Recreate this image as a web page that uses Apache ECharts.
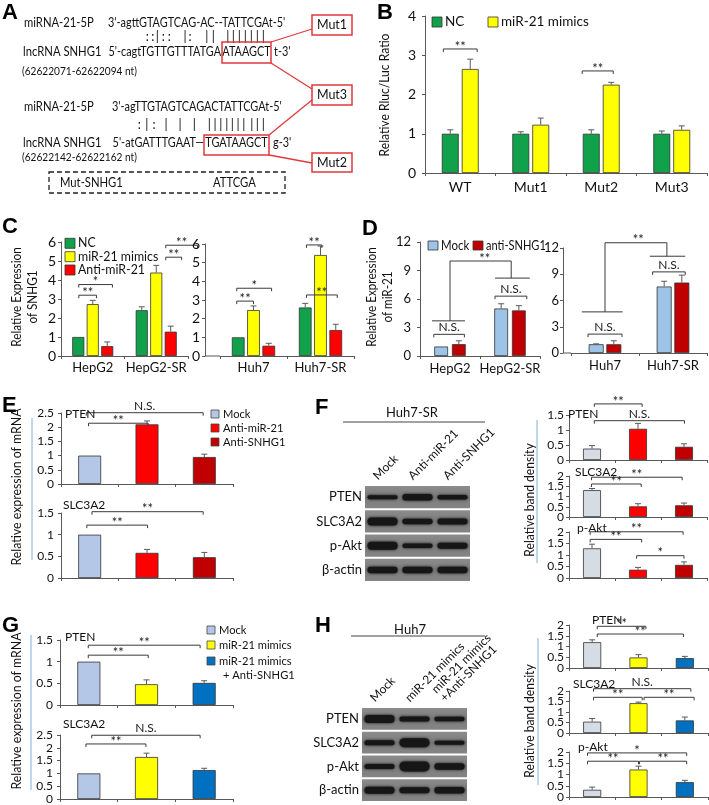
<!DOCTYPE html>
<html><head><meta charset="utf-8">
<script src="https://cdn.jsdelivr.net/npm/echarts@6/dist/echarts.min.js"></script>
<style>html,body{margin:0;padding:0;background:#fff}#c{width:709px;height:805px}</style>
</head><body><div id="c"></div>
<script>
// ================= DATA =================
// Panel B
const bCategories = ['WT','Mut1','Mut2','Mut3'];
const bNames = ['NC','miR-21 mimics'];
const bNC = [1.0,1.0,1.0,1.0];
const bNCErr = [0.1,0.05,0.1,0.07];
const bMimics = [2.65,1.23,2.25,1.1];
const bMimicsErr = [0.25,0.17,0.06,0.1];
const bTicks = [0,1,2,3,4];
const bSig = [[-0.24,3.16,0.24,'**'],[1.73,2.6,2.17,'**']];

// Panel C
const cCatsLeft = ['HepG2','HepG2-SR'];
const cCatsRight = ['Huh7','Huh7-SR'];
const cNames = ['NC','miR-21 mimics','Anti-miR-21'];
const cNCLeft = [1.0,2.41], cNCLeftErr = [0,0.18];
const cMimicsLeft = [2.73,4.39], cMimicsLeftErr = [0.2,0.38];
const cAntiLeft = [0.52,1.28], cAntiLeftErr = [0.22,0.29];
const cNCRight = [1.0,2.6], cNCRightErr = [0,0.22];
const cMimicsRight = [2.46,5.41], cMimicsRightErr = [0.22,0.48];
const cAntiRight = [0.55,1.39], cAntiRightErr = [0.13,0.31];
const cTicks = [0,1,2,3,4,5,6];
const cSigLeft = [[-0.22,3.2,0.06,'**'],[-0.22,3.76,0.31,'*'],[1.15,5.2,1.40,'**'],[1.15,5.83,1.65,'**']];
const cSigRight = [[-0.25,2.94,0.0,'**'],[-0.25,3.63,0.27,'*'],[0.79,5.95,1.02,'**'],[0.79,3.27,1.25,'**']];

// Panel D
const dCatsLeft = ['HepG2','HepG2-SR'];
const dCatsRight = ['Huh7','Huh7-SR'];
const dNames = ['Mock','anti-SNHG1'];
const dMockLeft = [1.0,5.0], dMockLeftErr = [0,0.5];
const dAntiLeft = [1.25,4.8], dAntiLeftErr = [0.35,0.5];
const dMockRight = [1.0,7.6], dMockRightErr = [0.05,0.6];
const dAntiRight = [1.0,8.05], dAntiRightErr = [0.4,0.85];
const dTicks = [0,3,6,9,12];
const dSigLeft = [[-0.27,2.28,0.24,'N.S.'],[0.75,6.3,1.28,'N.S.']];
const dLinksLeft = [[[-0.3,3.7],[0.25,3.7]],[[0.0,3.7],[0.0,10.0],[1.02,10.0],[1.02,8.2]],[[0.75,8.2],[1.33,8.2]]];
const dStarLeft = [[0.58,10.0,'**']];
const dSigRight = [[-0.25,2.16,0.25,'N.S.'],[0.7,9.27,1.18,'N.S.']];
const dLinksRight = [[[-0.34,4.7],[0.26,4.7]],[[0.0,4.7],[0.0,12.6],[0.91,12.6],[0.91,11.06]],[[0.66,11.06],[1.18,11.06]]];
const dStarRight = [[0.49,12.6,'**']];

// Panel E
const eGroups = ['Mock','Anti-miR-21','Anti-SNHG1'];
const ePTEN = [1.0,2.1,0.95], ePTENErr = [0,0.12,0.1];
const ePTENTicks = [0,0.5,1,1.5,2,2.5];
const eSLC = [1.0,0.58,0.48], eSLCErr = [0,0.08,0.11];
const eSLCTicks = [0,0.5,1,1.5];
const eSigPTEN = [[-0.02,2.14,1.02,'**'],[-0.06,2.51,1.98,'N.S.']];
const eSigSLC = [[-0.05,1.22,1.01,'**'],[0.04,1.53,1.98,'**']];

// Panel F
const fLanes = ['Mock','Anti-miR-21','Anti-SNHG1'];
const fProteins = ['PTEN','SLC3A2','p-Akt','β-actin'];
const fBands = [[4,6.5,4.5],[8,5.5,6],[8,4.5,6],[6.5,6.5,6.5]];
const fPTEN = [0.38,1.04,0.44], fPTENErr = [0.1,0.18,0.1], fPTENTicks = [0,0.5,1,1.5];
const fSLC = [1.31,0.52,0.57], fSLCErr = [0.08,0.13,0.11], fSLCTicks = [0,0.5,1,1.5,2];
const fAkt = [1.29,0.36,0.57], fAktErr = [0.18,0.1,0.13], fAktTicks = [0,0.5,1,1.5,2];
const fSigPTEN = [[0.05,1.87,1.09,'**'],[0.05,1.31,2.01,'N.S.']];
const fSigSLC = [[-0.01,1.94,1.96,'**'],[-0.01,1.61,1.07,'**']];
const fSigAkt = [[-0.04,2.01,1.98,'**'],[-0.04,1.68,1.08,'**'],[0.97,0.97,2.0,'*']];

// Panel G
const gGroups = ['Mock','miR-21 mimics','miR-21 mimics + Anti-SNHG1'];
const gPTEN = [1.0,0.48,0.51], gPTENErr = [0,0.1,0.05], gPTENTicks = [0,0.5,1,1.5];
const gSLC = [1.0,1.64,1.13], gSLCErr = [0,0.15,0.07], gSLCTicks = [0,0.5,1,1.5,2,2.5];
const gSigPTEN = [[-0.01,1.15,1.03,'**'],[-0.01,1.38,1.93,'**']];
const gSigSLC = [[0.05,2.49,1.93,'N.S.'],[-0.05,2.15,0.99,'**']];

// Panel H
const hLanes = ['Mock','miR-21 mimics','miR-21 mimics\n+Anti-SNHG1'];
const hProteins = ['PTEN','SLC3A2','p-Akt','β-actin'];
const hBands = [[8,5,4.5],[5,9,4],[5,10,6.5],[7,6,6.5]];
const hPTEN = [1.2,0.49,0.46], hPTENErr = [0.11,0.13,0.08], hPTENTicks = [0,0.5,1,1.5,2];
const hSLC = [0.54,1.42,0.6], hSLCErr = [0.15,0.05,0.16], hSLCTicks = [0,0.5,1,1.5,2];
const hAkt = [0.32,1.22,0.66], hAktErr = [0.12,0.15,0.08], hAktTicks = [0,0.5,1,1.5,2];
const hSigPTEN = [[0.11,1.94,1.16,'**'],[0.11,1.58,1.97,'**']];
const hSigSLC = [[0.03,2.11,2.13,'N.S.'],[0.03,1.7,1.08,'**'],[1.12,1.7,2.2,'**']];
const hSigAkt = [[-0.1,1.96,2.04,'*'],[-0.1,1.59,1.0,'**'],[1.02,1.59,2.04,'**']];

// ================= STYLE =================
const FONT = 'Lato, "Liberation Sans", sans-serif';
const AX = '#595959', ERR = '#5a5a5a', BR = '#3a3a3a', BORDER = '#333';
const GREEN = '#12a14b', YELLOW = '#ffff00', RED = '#ff0000', DRED = '#c00000';
const LBLUE = '#9dc3e6', MBLUE = '#b4c7e7', GRAYB = '#d6dce4', BLUE = '#0070c0';
const SIDE = '#7fb0d8';

const option = {animation:false, backgroundColor:'#fff', grid:[], xAxis:[], yAxis:[], series:[], graphic:[]};
const G = option.graphic;
function fmt(v){ return String(+v.toFixed(2)); }
function seg(x1,y1,x2,y2,col){ return {type:'line', shape:{x1:+x1,y1:+y1,x2:+x2,y2:+y2}, style:{stroke:col, lineWidth:1}}; }
function pos(api, x, y){ const i = Math.round(x); const c = api.coord([i, y]); const w = api.size([1,0])[0]; return [c[0] + (x-i)*w, c[1]]; }

function addGrid(c){
  option.grid.push({left:c.left, top:c.top, width:c.width, height:c.height, containLabel:false, outerBoundsMode:'none'});
  return option.grid.length-1;
}

function addBarChart(c){
  const gi = addGrid(c);
  const xc = option.xAxis.length;
  option.xAxis.push({type:'category', gridIndex:gi, data:c.cats, position:'bottom',
    axisLine:{show:true, onZero:false, lineStyle:{color:AX}},
    axisTick:{show:true, length:3, lineStyle:{color:AX}},
    axisLabel:{show:!!c.xLabelSize, interval:0, fontSize:c.xLabelSize||12, color:'#111', fontFamily:FONT, margin:c.xLabelMargin||6}});
  const yi = option.yAxis.length;
  const t = c.ticks;
  const step = t[1]-t[0];
  const tMax = t[t.length-1];
  option.yAxis.push({type:'value', gridIndex:gi, min:t[0], max:tMax, interval:step, offset:c.yOffset||0,
    axisLine:{show:true, onZero:false, lineStyle:{color:AX}},
    axisTick:{show:true, length:3, lineStyle:{color:AX}},
    splitLine:{show:false},
    axisLabel:{show:false}});
  const yOff = c.yOffset||0, yMargin = c.yLabelMargin||4, ySize = c.yLabelSize||12;
  const labelTicks = c.topLabelAsText ? t.slice(0, t.length-1) : t;
  option.series.push({type:'custom', xAxisIndex:xc, yAxisIndex:yi, zlevel:1, z:50,
    data:labelTicks.map(v=>[0, t[0] + (v-t[0])*0.98]), silent:true, clip:false,
    renderItem:(p,api)=>{ const v = labelTicks[p.dataIndex]; const a = pos(api, -0.5, v);
      return {type:'text', x:a[0]-yOff-yMargin, y:a[1], z2:100, style:{text:fmt(v), fontSize:ySize, fontFamily:FONT, fill:'#111', align:'right', verticalAlign:'middle'}}; }});
  if(c.topLabelAsText){
    G.push({type:'text', x:c.left-yOff-yMargin, y:c.top, z:20, zlevel:1, silent:true,
      style:{text:fmt(tMax), fontSize:ySize, fontFamily:FONT, fill:'#111', align:'right', verticalAlign:'middle'}});
  }
  const m = c.series.length, bw = c.bw, gap = c.gap||0;
  const total = m*bw + (m-1)*gap*bw;
  const errData = [];
  c.series.forEach((s,k)=>{
    const data = s.data.map((v,i)=>({value:v, itemStyle:{color:Array.isArray(s.color)?s.color[i]:s.color}}));
    option.series.push({type:'bar', name:s.name, xAxisIndex:xc, yAxisIndex:yi, data, barWidth:(bw*100)+'%', barGap:(gap*100)+'%',
      itemStyle:{borderColor:BORDER, borderWidth:0.8}, silent:true, z:2});
    const off = -total/2 + bw/2 + k*bw*(1+gap);
    s.data.forEach((v,i)=>{ if(s.err[i]>0) errData.push([i, v, off, v+s.err[i]]); });
  });
  option.series.push({type:'custom', xAxisIndex:xc, yAxisIndex:yi, data:errData.map(e=>[e[0],e[1]]), silent:true, z:3, clip:false,
    renderItem:(p,api)=>{
      const e = errData[p.dataIndex];
      const a = pos(api, e[0]+e[2], e[1]);
      const b = pos(api, e[0]+e[2], e[3]);
      return {type:'group', children:[seg(a[0],a[1],b[0],b[1],ERR), seg(b[0]-3,b[1],b[0]+3,b[1],ERR)]};
    }});
  const sig = c.sig||[];
  if(sig.length) option.series.push({type:'custom', xAxisIndex:xc, yAxisIndex:yi, data:sig.map(s=>[Math.max(0,Math.round(s[0])),Math.min(s[1],tMax*0.98)]), silent:true, z:4, clip:false,
    renderItem:(p,api)=>{
      const s = sig[p.dataIndex];
      const a = pos(api, s[0], s[1]), b = pos(api, s[2], s[1]);
      const y = a[1];
      const star = s[3].indexOf('*')>=0;
      return {type:'group', children:[
        seg(a[0],y,b[0],y,BR), seg(a[0],y,a[0],y+3,BR), seg(b[0],y,b[0],y+3,BR),
        {type:'text', x:(a[0]+b[0])/2, y:star ? y+4 : y-1, style:{text:s[3], fontSize:star?13:12, fontFamily:FONT, fill:'#222', align:'center', verticalAlign:'bottom'}}]};
    }});
  const links = c.links||[];
  if(links.length) option.series.push({type:'custom', xAxisIndex:xc, yAxisIndex:yi, data:links.map(l=>[0,Math.min(l[0][1],tMax*0.98)]), silent:true, z:4, clip:false,
    renderItem:(p,api)=>{
      const pts = links[p.dataIndex].map(pt=>pos(api, pt[0], pt[1]));
      const ch = [];
      for(let i=1;i<pts.length;i++) ch.push(seg(pts[i-1][0],pts[i-1][1],pts[i][0],pts[i][1],BR));
      return {type:'group', children:ch};
    }});
  const stars = c.stars||[];
  if(stars.length) option.series.push({type:'custom', xAxisIndex:xc, yAxisIndex:yi, data:stars.map(s=>[Math.round(s[0]),Math.min(s[1],tMax*0.98)]), silent:true, z:4, clip:false,
    renderItem:(p,api)=>{ const s = stars[p.dataIndex]; const a = pos(api, s[0], s[1]);
      return {type:'text', x:a[0], y:a[1]+4, style:{text:s[2], fontSize:13, fontFamily:FONT, fill:'#222', align:'center', verticalAlign:'bottom'}}; }});
  if(c.yOffset){
    option.series.push({type:'custom', xAxisIndex:xc, yAxisIndex:yi, data:[[0, t[0]]], silent:true, z:4, clip:false,
      renderItem:(p,api)=>{ const a = pos(api, -0.5, t[0]);
        return seg(a[0]-c.yOffset, a[1], a[0], a[1], AX); }});
  }
}

function addBlot(c){
  const gi = addGrid(c);
  const xi = option.xAxis.length;
  option.xAxis.push({type:'category', gridIndex:gi, position:'top', data:c.lanes,
    axisLine:{show:false, onZero:false}, axisTick:{show:false}, axisLabel:{show:false}});
  const yi = option.yAxis.length;
  option.yAxis.push({type:'category', gridIndex:gi, data:c.rows, inverse:true,
    axisLine:{show:false, onZero:false}, axisTick:{show:false},
    axisLabel:{fontSize:13, color:'#111', fontFamily:FONT, margin:3}});
  const nL = c.lanes.length;
  option.series.push({type:'custom', xAxisIndex:xi, yAxisIndex:yi, data:c.rows.map((r,i)=>[0,i]), silent:true, z:1, clip:false,
    renderItem:(p,api)=>{
      const ctr = api.coord([0, p.dataIndex]); const sz = api.size([1,1]);
      return {type:'rect', shape:{x:ctr[0]-sz[0]/2, y:ctr[1]-sz[1]/2+1, width:sz[0]*nL, height:sz[1]-2},
        style:{fill:{type:'linear',x:0,y:0,x2:0,y2:1,colorStops:[{offset:0,color:'#8c8c8c'},{offset:0.5,color:'#7c7c7c'},{offset:1,color:'#858585'}]}}};
    }});
  const bd = [];
  c.bands.forEach((row,ri)=>row.forEach((th,li)=>bd.push([li,ri,th])));
  option.series.push({type:'custom', xAxisIndex:xi, yAxisIndex:yi, data:bd.map(d=>[d[0],d[1]]), silent:true, z:2, clip:false,
    renderItem:(p,api)=>{
      const d = bd[p.dataIndex];
      const ctr = api.coord([d[0], d[1]]); const sz = api.size([1,1]);
      const w = sz[0]*0.86, h = d[2];
      return {type:'rect', shape:{x:ctr[0]-w/2, y:ctr[1]-h/2, width:w, height:h, r:h/2},
        style:{fill:'#161616', shadowBlur:3, shadowColor:'rgba(0,0,0,0.85)'}};
    }});
  option.series.push({type:'custom', xAxisIndex:xi, yAxisIndex:yi, data:c.lanes.map((l,i)=>[i,0]), silent:true, z:5, clip:false,
    renderItem:(p,api)=>{
      const ctr = api.coord([p.dataIndex, 0]); const sz = api.size([1,1]);
      return {type:'text', x:ctr[0]-3, y:ctr[1]-sz[1]/2-3, rotation:Math.PI/4,
        style:{text:c.lanes[p.dataIndex], fontSize:12, fontFamily:FONT, fill:'#111', align:'left', verticalAlign:'bottom', lineHeight:12}};
    }});
}

// ---- graphic helpers ----
function T(x,y,text,o){ o=o||{}; G.push({type:'text', x:x, y:y, rotation:o.rot||0, scaleX:o.sx||1, silent:true, z:10,
  style:{text:text, fontSize:o.size||12, fontFamily:o.family||FONT, fontWeight:o.weight||'normal', fill:o.color||'#111', align:o.align||'left', verticalAlign:o.va||'middle'}}); }
function L(x1,y1,x2,y2,o){ o=o||{}; G.push({type:'line', silent:true, z:10, shape:{x1,y1,x2,y2}, style:{stroke:o.color||'#333', lineWidth:o.w||1, lineDash:o.dash||null}}); }
function R(x,y,w,h,o){ o=o||{}; const st = {lineWidth:o.w||1}; st.fill = o.fill ? o.fill : 'transparent'; if(o.stroke) st.stroke = o.stroke; if(o.dash) st.lineDash = o.dash;
  G.push({type:'rect', silent:true, z:10, shape:{x,y,width:w,height:h}, style:st}); }
function letter(x,y,t){ T(x,y,t,{size:22, weight:'bold', family:'"Liberation Sans", Arial, sans-serif', va:'top', color:'#000'}); }
const ROT = Math.PI/2;

// ================= PANEL A =================
letter(2,2,'A');
const AR = '#e0393b', SEQ = 12.5, SX = 0.87;
T(24,23,'miRNA-21-5P',{size:SEQ,sx:0.9});
T(108,23,"3'-agttGTAGTCAG-AC--TATTCGAt-5'",{size:SEQ,sx:SX});
[[147.3,':'],[152.7,':'],[157.3,'|'],[163.3,':'],[169.3,':'],[185,'|'],[190,':'],[206.7,'|'],[213.3,'|'],
 [227.7,'|'],[233.3,'|'],[239.3,'|'],[245.3,'|'],[251.3,'|'],[257.3,'|'],[263.3,'|']].forEach(s=>T(s[0],37,s[1],{size:SEQ,align:'center'}));
T(23,52,'lncRNA SNHG1',{size:SEQ,sx:0.9});
T(221,52,"5'-cagtTGTTGTTTATGA",{size:SEQ,align:'right',sx:SX});
T(246.5,52,'ATAAGCT',{size:SEQ,align:'center',sx:SX});
T(274,52,"t-3'",{size:SEQ,sx:SX});
T(22,71,'(62622071-62622094 nt)',{size:11,sx:0.92});
R(222,42,49,21,{stroke:AR,w:1.5});
R(312,15,40,20,{stroke:AR,w:1.5}); T(332,25,'Mut1',{size:12.5,align:'center'});
R(312,85,40,20,{stroke:AR,w:1.5}); T(332,95,'Mut3',{size:12.5,align:'center'});
R(312,153,40,19,{stroke:AR,w:1.5}); T(332,163,'Mut2',{size:12.5,align:'center'});
L(271,42,312,29,{color:AR,w:1.3});
L(271,63,312,89,{color:AR,w:1.3});
L(312,100,269,135,{color:AR,w:1.3});
L(269,155,312,163,{color:AR,w:1.3});
T(24,107,'miRNA-21-5P',{size:SEQ,sx:0.9});
T(112,107,"3'-agTTGTAGTCAGACTATTCGAt-5'",{size:SEQ,sx:SX});
[[139.3,':'],[146.7,'|'],[154,':'],[166,'|'],[180,'|'],[194.3,'|'],[209.3,'|'],[215,'|'],[220.7,'|'],[226.7,'|'],[232.3,'|'],[238,'|'],[243.7,'|'],
 [251.7,'|'],[257.3,'|'],[263.3,'|']].forEach(s=>T(s[0],125,s[1],{size:SEQ,align:'center'}));
T(23,143,'lncRNA SNHG1',{size:SEQ,sx:0.9});
T(204,143,"5'-atGATTTGAAT\u2014",{size:SEQ,align:'right',sx:SX});
T(236.5,143,'TGATAAGCT',{size:SEQ,align:'center',sx:SX});
T(273,143,"g-3'",{size:SEQ,sx:SX});
T(22,157,'(62622142-62622162 nt)',{size:11,sx:0.92});
R(204,135,65,20,{stroke:AR,w:1.5});
R(49,172,236,21,{stroke:'#222',w:1.3,dash:[5,3]});
T(60,183,'Mut-SNHG1',{size:SEQ,sx:0.9});
T(213,183,'ATTCGA',{size:SEQ,sx:0.9});

// ================= PANEL B =================
letter(377,2,'B');
addBarChart({left:425, top:16, width:282, height:157, cats:bCategories, ticks:bTicks, bw:0.24, gap:0.18, topLabelAsText:true,
  xLabelSize:14, xLabelMargin:7, yLabelSize:14, yLabelMargin:9, sig:bSig,
  series:[{name:bNames[0], color:GREEN, data:bNC, err:bNCErr},{name:bNames[1], color:YELLOW, data:bMimics, err:bMimicsErr}]});
T(385,95,'Relative Rluc/Luc Ratio',{size:13,align:'center',rot:ROT,sx:0.93});
R(432,17,10,10,{fill:GREEN,stroke:BORDER,w:0.8}); T(445,22,bNames[0],{size:13.5});
R(488,17,10,10,{fill:YELLOW,stroke:BORDER,w:0.8}); T(501,22,bNames[1],{size:13.5});

// ================= PANEL C =================
letter(2,216,'C');
addBarChart({left:61, top:242, width:127, height:114, cats:cCatsLeft, ticks:cTicks, bw:0.19, gap:0.2,
  xLabelSize:13, xLabelMargin:5, yLabelSize:14, yLabelMargin:5, sig:cSigLeft,
  series:[{name:cNames[0],color:GREEN,data:cNCLeft,err:cNCLeftErr},{name:cNames[1],color:YELLOW,data:cMimicsLeft,err:cMimicsLeftErr},{name:cNames[2],color:RED,data:cAntiLeft,err:cAntiLeftErr}]});
addBarChart({left:220, top:244, width:134, height:112, cats:cCatsRight, ticks:cTicks, bw:0.19, gap:0.2, yOffset:15,
  xLabelSize:13, xLabelMargin:5, yLabelSize:14, yLabelMargin:5, sig:cSigRight,
  series:[{name:cNames[0],color:GREEN,data:cNCRight,err:cNCRightErr},{name:cNames[1],color:YELLOW,data:cMimicsRight,err:cMimicsRightErr},{name:cNames[2],color:RED,data:cAntiRight,err:cAntiRightErr}]});
T(17,297,'Relative Expression',{size:13,align:'center',rot:ROT,sx:0.9});
T(33,297,'of SNHG1',{size:13,align:'center',rot:ROT,sx:0.9});
[[243.3,GREEN],[256.7,YELLOW],[270,RED]].forEach((r,i)=>{ R(65,r[0]-5,10,10,{fill:r[1],stroke:BORDER,w:0.8}); T(78,r[0],cNames[i],{size:13,sx:0.95}); });

// ================= PANEL D =================
letter(362,218,'D');
addBarChart({left:420, top:242, width:120, height:114, cats:dCatsLeft, ticks:dTicks, bw:0.23, gap:0.28,
  xLabelSize:13, xLabelMargin:6, yLabelSize:13, yLabelMargin:9, sig:dSigLeft, links:dLinksLeft, stars:dStarLeft,
  series:[{name:dNames[0],color:LBLUE,data:dMockLeft,err:dMockLeftErr},{name:dNames[1],color:DRED,data:dAntiLeft,err:dAntiLeftErr}]});
addBarChart({left:571, top:248, width:136, height:105, cats:dCatsRight, ticks:dTicks, bw:0.22, gap:0.18, yOffset:8,
  xLabelSize:13, xLabelMargin:6, yLabelSize:13, yLabelMargin:4, sig:dSigRight, links:dLinksRight, stars:dStarRight,
  series:[{name:dNames[0],color:LBLUE,data:dMockRight,err:dMockRightErr},{name:dNames[1],color:DRED,data:dAntiRight,err:dAntiRightErr}]});
T(372,297,'Relative Expression',{size:13,align:'center',rot:ROT,sx:0.9});
T(388,297,'of miR-21',{size:13,align:'center',rot:ROT,sx:0.9});
R(428,241,10,9,{fill:LBLUE,stroke:BORDER,w:0.8}); T(441,245.5,dNames[0],{size:13,sx:0.88});
R(473,241,10,9,{fill:DRED,stroke:BORDER,w:0.8}); T(486,245.5,dNames[1],{size:13,sx:0.85});

// ================= PANEL E =================
letter(2,395,'E');
addBarChart({left:61, top:413, width:172, height:71, cats:eGroups, ticks:ePTENTicks, bw:0.40, yLabelSize:12, yLabelMargin:7, sig:eSigPTEN, topLabelAsText:true,
  series:[{name:'PTEN', color:[MBLUE,RED,DRED], data:ePTEN, err:ePTENErr}]});
addBarChart({left:61, top:513, width:172, height:65, cats:eGroups, ticks:eSLCTicks, bw:0.40, yLabelSize:12, yLabelMargin:7, sig:eSigSLC,
  series:[{name:'SLC3A2', color:[MBLUE,RED,DRED], data:eSLC, err:eSLCErr}]});
T(65,414,'PTEN',{size:12}); T(63,505,'SLC3A2',{size:12});
T(17,487,'Relative expression of mRNA',{size:13,align:'center',rot:ROT,sx:0.95});
L(32,418,32,560,{color:SIDE,w:1});
[[414,MBLUE],[428,RED],[442,DRED]].forEach((r,i)=>{ R(211,r[0]-4,8,8,{fill:r[1],stroke:'#444',w:0.8}); T(223,r[0],eGroups[i],{size:12,sx:0.93}); });

// ================= PANEL F =================
letter(315,397,'F');
T(412,413,'Huh7-SR',{size:13,align:'center'});
L(343,422,485,422,{color:'#444'});
addBlot({left:365, top:485, width:105, height:97, lanes:fLanes, rows:fProteins, bands:fBands});
addBarChart({left:569, top:415, width:138, height:45, cats:fLanes, ticks:fPTENTicks, bw:0.39, yLabelSize:12, yLabelMargin:5, sig:fSigPTEN, topLabelAsText:true,
  series:[{name:'PTEN', color:[GRAYB,RED,DRED], data:fPTEN, err:fPTENErr}]});
addBarChart({left:569, top:476, width:138, height:41, cats:fLanes, ticks:fSLCTicks, bw:0.39, yLabelSize:12, yLabelMargin:5, sig:fSigSLC,
  series:[{name:'SLC3A2', color:[GRAYB,RED,DRED], data:fSLC, err:fSLCErr}]});
addBarChart({left:569, top:532, width:138, height:46, cats:fLanes, ticks:fAktTicks, bw:0.39, yLabelSize:12, yLabelMargin:5, sig:fSigAkt,
  series:[{name:'p-Akt', color:[GRAYB,RED,DRED], data:fAkt, err:fAktErr}]});
T(568,414,'PTEN',{size:12}); T(575,472,'SLC3A2',{size:12}); T(577,528,'p-Akt',{size:12});
T(530,500,'Relative band density',{size:13,align:'center',rot:ROT,sx:0.93});
L(537,420,537,563,{color:SIDE,w:1});

// ================= PANEL G =================
letter(2,615,'G');
addBarChart({left:60, top:640, width:173, height:65, cats:gGroups, ticks:gPTENTicks, bw:0.40, yLabelSize:12, yLabelMargin:7, sig:gSigPTEN,
  series:[{name:'PTEN', color:[MBLUE,YELLOW,BLUE], data:gPTEN, err:gPTENErr}]});
addBarChart({left:60, top:735, width:173, height:64, cats:gGroups, ticks:gSLCTicks, bw:0.40, yLabelSize:12, yLabelMargin:7, sig:gSigSLC,
  series:[{name:'SLC3A2', color:[MBLUE,YELLOW,BLUE], data:gSLC, err:gSLCErr}]});
T(65,637,'PTEN',{size:12}); T(63,724,'SLC3A2',{size:12});
T(17,711,'Relative expression of mRNA',{size:13,align:'center',rot:ROT,sx:0.95});
L(31,635,31,790,{color:SIDE,w:1});
R(207,626,8,8,{fill:MBLUE,stroke:'#444',w:0.8}); T(219,630,'Mock',{size:12,sx:0.93});
R(207,641,8,8,{fill:YELLOW,stroke:'#444',w:0.8}); T(219,645,'miR-21 mimics',{size:12,sx:0.93});
R(207,657,8,8,{fill:BLUE,stroke:'#444',w:0.8}); T(219,661,'miR-21 mimics',{size:12,sx:0.93}); T(223,675,'+ Anti-SNHG1',{size:12,sx:0.93});

// ================= PANEL H =================
letter(315,615,'H');
T(410,630,'Huh7',{size:13,align:'center'});
L(351,636,485,636,{color:'#444'});
addBlot({left:362, top:707, width:105, height:95, lanes:hLanes, rows:hProteins, bands:hBands});
addBarChart({left:569, top:625, width:139, height:43, cats:hLanes, ticks:hPTENTicks, bw:0.39, yLabelSize:12, yLabelMargin:5, sig:hSigPTEN,
  series:[{name:'PTEN', color:[GRAYB,YELLOW,BLUE], data:hPTEN, err:hPTENErr}]});
addBarChart({left:569, top:691, width:139, height:42, cats:hLanes, ticks:hSLCTicks, bw:0.39, yLabelSize:12, yLabelMargin:5, sig:hSigSLC,
  series:[{name:'SLC3A2', color:[GRAYB,YELLOW,BLUE], data:hSLC, err:hSLCErr}]});
addBarChart({left:569, top:752, width:139, height:45, cats:hLanes, ticks:hAktTicks, bw:0.39, yLabelSize:12, yLabelMargin:5, sig:hSigAkt,
  series:[{name:'p-Akt', color:[GRAYB,YELLOW,BLUE], data:hAkt, err:hAktErr}]});
T(592,620,'PTEN',{size:12}); T(573,684,'SLC3A2',{size:12}); T(578,747,'p-Akt',{size:12});
T(530,721,'Relative band density',{size:13,align:'center',rot:ROT,sx:0.93});
L(538,638,538,785,{color:SIDE,w:1});

const chart = echarts.init(document.getElementById('c'), null, {renderer:'canvas'});
chart.setOption(option);
</script>
</body></html>
